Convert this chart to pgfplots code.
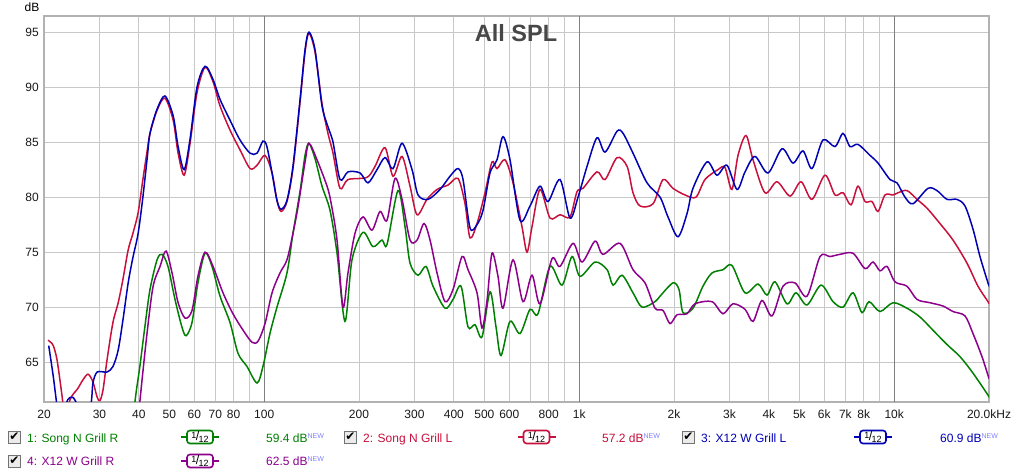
\documentclass[border=0pt]{standalone}
\usepackage{pgfplots}
\usepackage{pgfplotstable}
\pgfplotsset{compat=1.18}
\usepackage{fontspec}
\setmainfont{Liberation Sans}
\newfontfamily\symfont{DejaVu Sans}
\definecolor{cgreen}{RGB}{0,128,0}
\definecolor{cred}{RGB}{200,16,60}
\definecolor{cblue}{RGB}{0,0,180}
\definecolor{cpurple}{RGB}{140,0,140}
\definecolor{cnew}{RGB}{130,130,255}
\definecolor{gridc}{RGB}{200,200,200}
\definecolor{decc}{RGB}{128,128,128}

\pgfplotstableread{
f db
37 55
38.9 61.4
40.3 64.6
41.8 68.2
43.4 71.6
45.7 74.3
47.4 74.8
49.5 73.7
52.1 70.7
54.8 68.2
56.5 67.4
59.0 68.6
61.6 72.2
64.9 74.9
68.3 73.7
72.4 71.0
77.9 68.6
82.6 65.8
88.2 64.6
94.9 63.1
99.1 64.6
104.3 67.6
109.8 70.0
118.1 73.1
123.4 76.7
129.9 80.5
134.8 83.8
138.7 84.9
145.0 83.5
152.6 81.0
161.8 78.8
170.3 74.9
180.5 68.7
190.0 74.3
205.9 76.8
221.5 75.5
236.6 76.1
245.4 75.7
266.0 80.6
280.0 77.3
290.4 74.0
307.9 72.9
326.4 73.7
343.6 71.9
375.1 69.9
397.6 70.7
421.6 71.9
443.7 68.2
467.0 68.4
491.5 67.3
521.1 71.4
544.4 68.2
564.7 65.6
603.1 68.7
648.8 67.6
698.1 69.8
740.0 69.4
808.0 73.7
882.0 72.0
948.9 74.6
1006 72.8
1123 74.1
1226 73.4
1281 72.0
1368 72.9
1482 71.3
1583 70.0
1741 70.5
1806 71.0
1985 72.2
2074 71.6
2136 69.5
2297 69.9
2471 71.9
2639 73.1
2860 73.4
3054 73.8
3361 71.3
3696 72.1
3947 71.1
4185 72.3
4568 70.3
4879 71.3
5288 70.2
5857 72.0
6394 70.5
6879 70.0
7401 71.3
7904 69.5
8319 70.5
9015 69.6
9913 70.4
10981 69.9
12075 69.1
13278 67.9
14709 66.6
16176 65.5
17787 64.0
19854 62.0
20000 61.8
}\greendata

\pgfplotstableread{
f db
20.6 67.0
21.0 66.8
21.4 66.5
22.0 65.2
22.8 62.0
23.4 59.5
24.2 61.6
25.6 62.6
26.6 63.4
27.6 63.9
28.6 63.2
29.5 61.8
30.1 61.5
30.8 62.5
31.7 65.2
33.1 68.6
34.4 70.4
35.6 72.5
37.0 75.2
38.3 76.7
39.8 78.6
41.2 81.6
42.5 84.2
43.4 85.8
45.7 87.9
48.4 89.0
51.4 87.0
53.3 84.0
55.7 82.0
58.1 84.8
61.2 89.5
64.9 91.8
68.8 90.5
72.4 88.3
77.9 86.1
83.8 84.3
90.2 82.6
94.9 82.9
100.6 83.8
105.9 82.2
109.8 79.7
113.1 78.7
118.1 79.6
123.4 82.6
129.9 88.6
134.8 93.2
138.7 94.9
145.0 93.2
152.6 88.5
159.4 85.8
165.4 84.0
174.1 80.8
184.5 81.6
212.0 81.8
224.8 82.8
241.9 84.5
256.5 81.9
273.9 83.7
290.4 81.0
305.7 78.4
328.8 79.8
353.8 80.7
383.4 81.1
412.4 81.7
434.1 79.4
450.2 76.3
473.8 77.6
502.4 80.4
528.7 83.2
548.4 82.6
581.4 83.4
616.5 81.3
658.4 77.3
682.9 75.0
708.3 77.3
750.9 80.7
808 78.1
869.2 78.4
935.1 78.2
984.2 80.5
1028 80.8
1139 82.3
1208 81.6
1319 83.6
1419 82.8
1482 80.4
1560 79.2
1716 79.4
1846 81.6
1985 80.8
2167 80.2
2348 80.0
2508 81.6
2757 82.5
2902 82.7
3054 80.7
3193 83.8
3385 85.6
3563 83.4
3890 80.4
4246 81.4
4670 80.1
5061 81.4
5484 79.8
6031 82.0
6488 80.2
6879 80.4
7293 79.3
7676 81.0
8080 79.6
8504 79.6
8884 78.7
9350 80.2
9913 80.2
10282 80.4
10981 80.6
11813 79.8
12709 79.0
13975 77.6
15368 76.1
17024 74.0
18450 71.9
19854 70.5
20000 70.3
}\reddata

\pgfplotstableread{
f db
20.7 66.5
21.4 63.7
22.0 61.0
22.5 59.5
23.2 60.5
23.8 61.6
24.7 61.8
25.6 61.0
26.3 59.8
27.6 59.8
28.3 61.5
28.6 63.1
29.5 64.1
31.7 64.1
33.1 64.6
34.4 66.1
35.6 68.8
37.0 72.2
38.3 74.5
39.8 76.7
41.2 80.0
42.5 83.5
43.4 85.8
45.7 88.0
48.4 89.2
51.4 87.4
53.3 84.6
55.7 82.5
58.1 85.2
61.2 90.0
64.9 91.9
68.8 90.7
72.4 88.9
77.9 87.0
83.8 85.2
90.2 84.0
94.9 84.0
99.1 85.1
102.0 84.6
105.9 82.2
109.8 79.7
113.1 78.9
118.1 79.7
123.4 82.8
129.9 88.8
134.8 93.4
138.7 95.0
145.0 93.4
152.6 88.3
159.4 86.4
165.4 85.0
174.1 81.6
184.5 82.3
201.5 82.2
213.6 81.3
228.1 82.5
241.9 83.6
256.5 82.6
273.9 84.9
294.7 82.5
307.9 80.2
331.2 79.8
361.6 80.7
389.0 81.9
412.4 82.6
427.8 81.6
450.2 77.2
473.8 77.5
495.1 78.8
521.1 82.2
548.4 83.4
573.0 85.5
603.1 83.4
648.8 77.9
698.1 79.2
750.9 81.0
796.2 79.6
869.2 81.6
935.1 78.1
991.5 80.0
1059 82.8
1139 85.4
1208 84.1
1319 86.0
1378 85.8
1482 84.0
1642 81.3
1806 80.0
1914 78.2
2059 76.4
2199 78.5
2297 80.8
2545 83.2
2737 82.0
2945 82.9
3170 80.7
3361 82.3
3615 83.7
3976 82.2
4404 84.4
4773 83.1
5135 84.2
5484 82.6
5943 85.2
6488 84.6
6879 85.8
7240 84.6
7676 84.8
8380 83.8
8884 83.1
9698 81.6
10207 81.3
10822 80.0
11473 79.4
12802 80.8
13672 80.6
14709 79.8
15825 79.8
16777 79.2
17787 77.1
18722 74.6
19854 72.2
20000 72.0
}\bluedata

\pgfplotstableread{
f db
38.5 55
40.3 61.4
42.5 67.7
44.4 71.9
46.7 73.7
48.8 75.1
51.0 73.1
53.3 70.4
56.1 69.0
59.0 69.7
61.6 72.8
64.9 75.0
68.8 73.7
74.0 71.3
79.6 69.4
85.7 67.9
91.5 66.8
95.6 66.9
100.6 68.5
105.9 71.3
112.2 73.1
118.1 74.3
123.4 76.7
128.0 79.1
134.8 83.2
138.7 84.9
147.1 83.4
158.3 81.0
163.0 79.5
170.3 76.1
177.9 70.0
184.5 73.1
194.2 76.7
205.9 78.2
219.9 77.0
233.2 78.7
245.4 77.9
260.2 81.7
273.9 79.8
290.4 76.1
305.7 76.1
321.7 77.6
336.1 76.1
353.8 73.1
375.1 70.5
397.6 71.6
424.7 74.6
443.7 73.4
473.8 71.3
491.5 68.1
509.8 70.6
528.7 74.9
552.4 72.8
573.0 69.9
616.5 74.3
663.2 70.5
708.3 72.9
750.9 70.3
819.9 74.4
869.2 73.7
955.9 75.8
1021 74.1
1123 76.0
1190 74.8
1348 75.8
1482 73.4
1618 72.2
1741 69.9
1846 69.7
1942 68.5
2044 69.3
2199 69.4
2331 70.3
2639 70.5
2860 69.4
3077 70.3
3361 69.8
3563 68.7
3805 70.6
4094 69.2
4437 71.9
4843 72.2
5288 71.0
5814 74.6
6255 74.6
6730 74.8
7401 74.9
8080 73.5
8566 74.1
9015 73.3
9488 73.7
10059 72.3
10981 71.9
11813 70.7
12991 70.4
14285 70.1
15368 69.6
16777 69.2
17787 67.6
18997 65.5
19854 63.8
20000 63.5
}\purpledata

\newcommand{\fracsym}{\raisebox{2pt}{\fontsize{9}{9}\selectfont 1}\kern-0.6pt{\fontsize{12.5}{12}\selectfont /}\kern-0.6pt\raisebox{-2.5pt}{\fontsize{9}{9}\selectfont 12}}

% #1 checkbox x, #2 row centre y, #3 colour, #4 label, #5 box centre x, #6 value x, #7 value, #8 baseline y
\newcommand{\legitem}[8]{%
  \draw[black!55, fill=black!8] ({#1-6},{-#2-6}) rectangle ({#1+6},{-#2+6});
  \node[inner sep=0pt] at ({#1+0.5},{-#2+0.5}) {\symfont\fontsize{12}{12}\selectfont ✔};
  \node[anchor=base west, inner sep=0pt, text=#3] at ({#1+13},-#8) {\fontsize{12}{14}\selectfont #4};
  \draw[#3, line width=1.5pt] ({#5-19},-#2) -- ({#5+19},-#2);
  \draw[#3, line width=1.6pt, fill=white, rounded corners=3pt] ({#5-13},{-#2-6.5}) rectangle ({#5+13},{-#2+6.5});
  \node[inner sep=0pt, text=black] at (#5,-#2) {\fracsym};
  \node[anchor=base west, inner sep=0pt, text=#3] at (#6,-#8) {\fontsize{12}{14}\selectfont #7 dB\raisebox{4pt}{\fontsize{7}{7}\selectfont\color{cnew}NEW}};
}

\begin{document}
\begin{tikzpicture}[x=1pt,y=1pt]
\fill[white] (0,0) rectangle (1011,-476);
\path[use as bounding box] (0,0) rectangle (1011,-476);
\begin{axis}[
  at={(44pt,-401.7pt)}, anchor=south west,
  scale only axis, width=945pt, height=386pt,
  xmode=log, xmin=20, xmax=20000, ymin=61.4, ymax=96.5,
  xtick={20,30,40,50,60,70,80,90,100,200,300,400,500,600,700,800,900,1000,2000,3000,4000,5000,6000,7000,8000,9000,10000,20000},
  xticklabels={20,30,40,50,60,70,80,,100,200,300,400,500,600,,800,,1k,2k,3k,4k,5k,6k,7k,8k,,10k,20.0kHz},
  ytick={65,70,75,80,85,90,95},
  yticklabels={65,70,75,80,85,90,95},
  extra x ticks={100,1000,10000},
  extra x tick labels={},
  extra x tick style={major grid style={draw=decc, line width=0.8pt}},
  grid=major,
  major grid style={draw=gridc, line width=0.8pt},
  major tick length=0pt, minor tick length=0pt,
  axis line style={draw=black!30, line width=2.2pt},
  tick label style={font=\fontsize{12}{14}\selectfont, text=black!90},
  xticklabel style={inner sep=0pt, yshift=-8pt},
  yticklabel style={inner sep=0pt, xshift=-5pt},
  /pgf/number format/assume math mode=true,
]
\addplot[cgreen, line width=1.5pt, smooth, tension=0.5] table[x=f,y=db] {\greendata};
\addplot[cred, line width=1.5pt, smooth, tension=0.5] table[x=f,y=db] {\reddata};
\addplot[cblue, line width=1.5pt, smooth, tension=0.5] table[x=f,y=db] {\bluedata};
\addplot[cpurple, line width=1.5pt, smooth, tension=0.5] table[x=f,y=db] {\purpledata};
\end{axis}
\node[font=\bfseries\fontsize{23.5}{25}\selectfont, text=black!72, inner sep=0pt] at (516,-33.5) {All SPL};
\node[anchor=base, inner sep=0pt, font=\fontsize{12}{14}\selectfont] at (32,-11.7) {dB};
\legitem{14}{437}{cgreen}{1: Song N Grill R}{200}{266}{59.4}{442}
\legitem{350}{437}{cred}{2: Song N Grill L}{536.5}{602}{57.2}{442}
\legitem{688}{437}{cblue}{3: X12 W Grill L}{873}{940}{60.9}{442}
\legitem{14}{461}{cpurple}{4: X12 W Grill R}{200}{266}{62.5}{465}
\end{tikzpicture}
\end{document}
